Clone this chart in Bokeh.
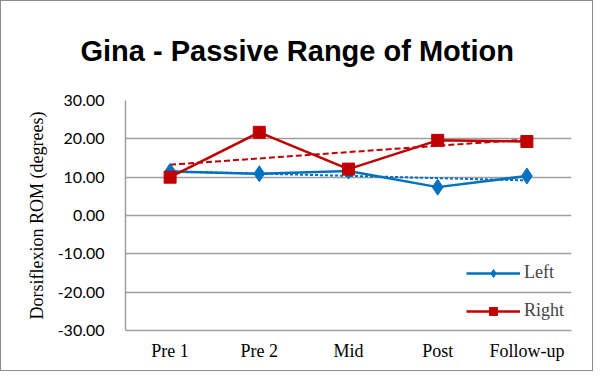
import numpy as np
from bokeh.plotting import figure
from bokeh.models import FactorRange, Range1d, FixedTicker, NumeralTickFormatter, Title, Legend
from bokeh.embed import file_html
from bokeh.resources import INLINE

categories = ["Pre 1", "Pre 2", "Mid", "Post", "Follow-up"]
left_vals = [11.5, 10.9, 11.6, 7.4, 10.3]
right_vals = [10.0, 21.7, 12.1, 19.6, 19.3]
y_ticks = [-30, -20, -10, 0, 10, 20, 30]

BLUE = "#0070C0"
RED = "#C00000"
GRID = "#9e9e9e"

p = figure(width=593, height=371, output_backend="svg", toolbar_location=None,
           x_range=FactorRange(*categories, range_padding=0),
           y_range=Range1d(-30, 30),
           min_border_left=124, min_border_right=23, min_border_top=99, min_border_bottom=42)
p.styles = {"border": "1px solid #8c8c8c"}

p.title = None
t = Title(text="Gina - Passive Range of Motion", align="left", offset=-45,
          vertical_align="top",
          text_font="Liberation Sans", text_font_size="29px", text_font_style="bold",
          text_color="black", standoff=64)
p.add_layout(t, "above")

p.outline_line_color = None
p.xgrid.grid_line_color = None
p.ygrid.grid_line_color = GRID
p.ygrid.grid_line_width = 1.5

p.yaxis.ticker = FixedTicker(ticks=y_ticks)
p.yaxis.formatter = NumeralTickFormatter(format="0.00")
p.yaxis.major_tick_line_color = None
p.yaxis.minor_tick_line_color = None
p.yaxis.axis_line_color = GRID
p.yaxis.axis_line_width = 1.5
p.yaxis.major_label_text_font = "Lato"
p.yaxis.major_label_text_font_size = "16px"
p.yaxis.major_label_text_color = "black"
p.yaxis.major_label_standoff = 15
p.yaxis.axis_label = "Dorsiflexion ROM (degrees)"
p.yaxis.axis_label_text_font = "Liberation Serif"
p.yaxis.axis_label_text_font_size = "18px"
p.yaxis.axis_label_text_font_style = "normal"
p.yaxis.axis_label_text_color = "black"
p.yaxis.axis_label_standoff = 8

p.xaxis.major_tick_line_color = None
p.xaxis.minor_tick_line_color = None
p.xaxis.axis_line_color = GRID
p.xaxis.axis_line_width = 1.5
p.xaxis.major_label_text_font = "Liberation Serif"
p.xaxis.major_label_text_font_size = "18px"
p.xaxis.major_label_text_color = "black"
p.xaxis.major_label_standoff = 4

# linear trendlines (derived from data)
xi = np.arange(1, len(categories) + 1)
lf = np.polyfit(xi, left_vals, 1)
rf = np.polyfit(xi, right_vals, 1)
p.line(categories, list(np.polyval(lf, xi)), line_color=BLUE, line_width=2, line_dash="3 2")
p.line(categories, list(np.polyval(rf, xi)), line_color=RED, line_width=2, line_dash="6 3")

l1 = p.line(categories, left_vals, line_color=BLUE, line_width=2.5)
s1 = p.scatter(categories, left_vals, marker="diamond", size=16, fill_color=BLUE, line_color=BLUE)
l2 = p.line(categories, right_vals, line_color=RED, line_width=2.5)
s2 = p.scatter(categories, right_vals, marker="square", size=12, fill_color=RED, line_color=RED)

legend = Legend(items=[("Left", [l1, s1]), ("Right", [l2, s2])],
                location=(341, 9), padding=0, margin=0, spacing=17,
                glyph_width=54, glyph_height=20, label_standoff=4,
                label_text_font="Liberation Serif", label_text_font_size="18px",
                border_line_color=None, background_fill_alpha=0)
p.add_layout(legend, "center")

open("out.html", "w").write(file_html(p, INLINE))
